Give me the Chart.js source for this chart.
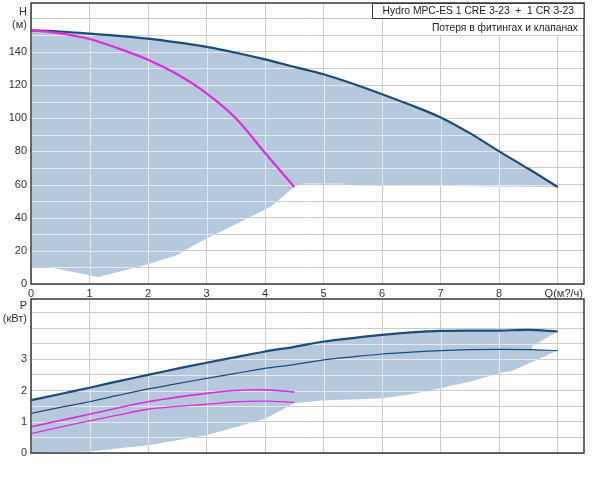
<!DOCTYPE html>
<html><head><meta charset="utf-8">
<script src="https://cdn.jsdelivr.net/npm/chart.js@4.4.0/dist/chart.umd.min.js"></script>
<style>
html,body{margin:0;padding:0;background:#fff;}
#wrap{position:relative;width:600px;height:486px;overflow:hidden;background:#fff;}
#c1{position:absolute;left:0;top:0;}
#c2{position:absolute;left:0;top:296px;}
</style></head><body>
<div id="wrap"><canvas id="c1" width="600" height="300"></canvas><canvas id="c2" width="600" height="190"></canvas></div>
<script>
// ---- data ----
const qLabels = ['0','1','2','3','4','5','6','7','8','    Q(м?/ч)'];
const hLabelValues = [0,20,40,60,80,100,120,140];
const hTitle = ['H','(м)'];
const pLabelValues = [0,1,2,3];
const pTitle = ['P','(кВт)'];
const legendLine1 = 'Hydro MPC-ES 1 CRE 3-23  +  1 CR 3-23';
const legendLine2 = 'Потеря в фитингах и клапанах';

// head curves
const qCurve = [0,0.5,1,1.5,2,2.5,3,3.5,4,4.5,5,5.5,6,6.5,7,7.5,8,8.5,9];
const hMax = [153,152.3,151,149.7,148,145.7,143,139.5,135.5,131,126.5,120.8,114.5,107.8,100.5,91,80,69.5,58.5];
const qMag = [0,0.5,1,1.5,2,2.5,3,3.5,4,4.5];
const hMag = [153,151.2,147.8,142,135.3,126.5,115,100,79,58.5];
// lower edge of head envelope (right to left)
const hEdgeQ = [9,5.5,5.4,4.65,4.5,4.1,3.5,2.9,2.5,2,1.5,1.15,0.3,0];
const hEdgeH = [58.5,59.6,60.4,60.6,58.6,46.7,36,25.6,17.5,11.9,7.4,4.2,10.3,10.3];

// power curves
const pMax = [1.69,1.89,2.09,2.30,2.50,2.70,2.89,3.07,3.25,3.40,3.57,3.68,3.78,3.86,3.91,3.92,3.92,3.94,3.89];
const pMid = [1.27,1.46,1.64,1.85,2.05,2.22,2.39,2.55,2.71,2.83,2.98,3.08,3.17,3.23,3.28,3.31,3.32,3.31,3.28];
const pMagHi = [0.84,1.04,1.24,1.45,1.64,1.79,1.91,2.00,2.02,1.95];
const pMagLo = [0.62,0.83,1.03,1.22,1.40,1.49,1.56,1.64,1.66,1.62];
// right / lower edge of power envelope (right to left)
const pEdgeQ = [8.56,8.56,9,8.24,8,7.5,7,6.5,6,5.5,5,4.5,4,3,2,1,0];
const pEdgeP = [3.41,3.30,3.28,2.64,2.55,2.28,2.07,1.88,1.75,1.71,1.69,1.59,1.10,0.57,0.25,0.05,0];

// ---- helpers ----
const pts = (xs, ys) => xs.map((x,i)=>({x:x, y:ys[i]}));
const polygon = (xs, ys, ex, ey) => pts(xs, ys).concat(pts(ex, ey));

const FONT = {family:'"Liberation Sans", Arial, sans-serif', size:11};
const TXT = '#333333';
const GRID = '#cccccc';
const GRID_ON_FILL = '#e3e9f0';
const FILL = '#b6c8dc';
const DARK = '#1d4b7a';
const MAG = '#dd2ddd';

function noPad(s){ s.paddingTop = 0; s.paddingBottom = 0; s.paddingLeft = 0; s.paddingRight = 0; }

const framePlugin = {
  id:'frame',
  afterDatasetDraw(chart, args){
    if (args.index !== 0) return;
    const ctx = chart.ctx;
    const area = chart.chartArea;
    const line = chart.getDatasetMeta(0).dataset;
    ctx.save();
    ctx.beginPath();
    ctx.rect(area.left, area.top, area.right-area.left, area.bottom-area.top);
    ctx.clip();
    ctx.beginPath();
    line.path(ctx);
    ctx.closePath();
    ctx.clip();
    ctx.strokeStyle = GRID_ON_FILL;
    ctx.lineWidth = 1;
    const xs = chart.scales.x, ys = chart.scales.y;
    ctx.beginPath();
    xs.ticks.forEach(t => {
      const px = Math.round(xs.getPixelForValue(t.value)) + 0.5;
      ctx.moveTo(px, area.top); ctx.lineTo(px, area.bottom);
    });
    ys.ticks.forEach(t => {
      const py = Math.round(ys.getPixelForValue(t.value)) + 0.5;
      ctx.moveTo(area.left, py); ctx.lineTo(area.right, py);
    });
    ctx.stroke();
    ctx.restore();
  },
  afterDraw(chart){
    const {left,top,right,bottom} = chart.chartArea;
    const ctx = chart.ctx;
    ctx.save();
    ctx.strokeStyle = '#3a3a3a';
    ctx.lineWidth = 1.5;
    ctx.strokeRect(left, top, right-left, bottom-top);
    ctx.restore();
  }
};

const legendPlugin = {
  id:'legendBox',
  afterDraw(chart){
    const ctx = chart.ctx;
    const right = chart.chartArea.right;
    ctx.save();
    ctx.fillStyle = '#ffffff';
    ctx.fillRect(372, 3.5, right-372, 15);
    ctx.strokeStyle = '#3a3a3a';
    ctx.lineWidth = 1;
    ctx.strokeRect(372.5, 3.5, right-372.5, 15);
    ctx.font = '10.3px "Liberation Sans", Arial, sans-serif';
    ctx.fillStyle = '#222';
    ctx.textAlign = 'right';
    ctx.textBaseline = 'middle';
    ctx.fillText(legendLine1, right-10, 11.5);
    const w2 = ctx.measureText(legendLine2).width;
    ctx.fillStyle = '#ffffff';
    ctx.fillRect(right-6-w2-3, 21, w2+6, 14);
    ctx.fillStyle = '#222';
    ctx.fillText(legendLine2, right-6, 28);
    ctx.restore();
  }
};

function xScale(showLabels){
  return {
    type:'linear', min:0, max:9.45,
    afterFit(s){ s.height = showLabels ? 16 : 0; noPad(s); },
    grid:{color:GRID, lineWidth:1, drawTicks:false},
    border:{display:false},
    ticks:{
      display:showLabels, stepSize:1, includeBounds:false, autoSkip:false, maxRotation:0,
      padding:3, color:TXT, font:FONT,
      callback:(v)=> (Number.isInteger(v) && v>=0 && v<qLabels.length) ? qLabels[v] : ''
    }
  };
}

const lineDs = (data, color, width) => ({
  data, borderColor:color, borderWidth:width, pointRadius:0, fill:false,
  tension:0.3, order:0
});

// ---- top chart ----
new Chart(document.getElementById('c1'), {
  type:'line',
  data:{ datasets:[
    { data: polygon(qCurve, hMax, hEdgeQ, hEdgeH), backgroundColor:FILL, borderWidth:0,
      pointRadius:0, fill:'shape', tension:0, order:10 },
    lineDs(pts(qMag, hMag), MAG, 2.2),
    lineDs(pts(qCurve, hMax), DARK, 2.2)
  ]},
  options:{
    responsive:false, devicePixelRatio:1, animation:false,
    layout:{padding:{left:0,right:16,top:3,bottom:0}},
    plugins:{legend:{display:false}, tooltip:{enabled:false}},
    scales:{
      x: xScale(true),
      y: {
        type:'linear', min:0, max:169.5,
        afterFit(s){ s.width = 31; noPad(s); },
        grid:{color:GRID, lineWidth:1, drawTicks:false},
        border:{display:false},
        ticks:{
          stepSize:10, includeBounds:false, autoSkip:false, padding:4, color:TXT, font:FONT,
          callback:(v)=> v===160 ? hTitle : (hLabelValues.includes(v) ? String(v) : '')
        }
      }
    }
  },
  plugins:[framePlugin, legendPlugin]
});

// ---- bottom chart ----
new Chart(document.getElementById('c2'), {
  type:'line',
  data:{ datasets:[
    { data: polygon(qCurve, pMax, pEdgeQ, pEdgeP), backgroundColor:FILL, borderWidth:0,
      pointRadius:0, fill:'shape', tension:0, order:10 },
    lineDs(pts(qMag, pMagHi), MAG, 1.6),
    lineDs(pts(qMag, pMagLo), MAG, 1.3),
    lineDs(pts(qCurve, pMid), DARK, 1.2),
    lineDs(pts(qCurve, pMax), DARK, 2.2)
  ]},
  options:{
    responsive:false, devicePixelRatio:1, animation:false,
    layout:{padding:{left:0,right:16,top:3,bottom:33}},
    plugins:{legend:{display:false}, tooltip:{enabled:false}},
    scales:{
      x: xScale(false),
      y: {
        type:'linear', min:0, max:4.93,
        afterFit(s){ s.width = 31; noPad(s); },
        grid:{color:GRID, lineWidth:1, drawTicks:false},
        border:{display:false},
        ticks:{
          stepSize:0.5, includeBounds:false, autoSkip:false, padding:4, color:TXT, font:FONT,
          callback:(v)=> Math.abs(v-4.5)<1e-6 ? pTitle : (pLabelValues.includes(v) ? String(v) : '')
        }
      }
    }
  },
  plugins:[framePlugin]
});
</script>
</body></html>
